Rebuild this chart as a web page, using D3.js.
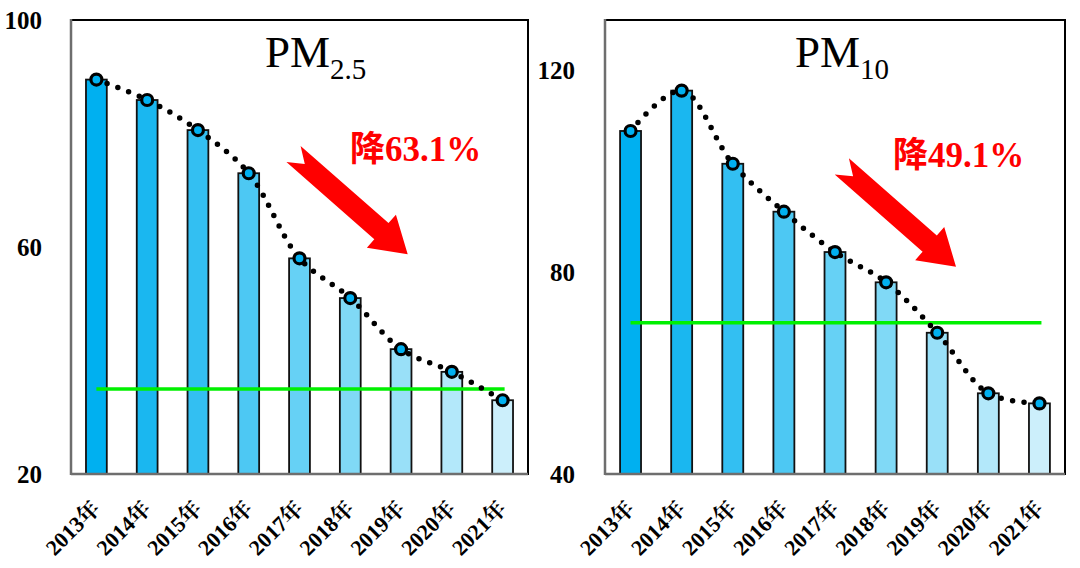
<!DOCTYPE html>
<html>
<head>
<meta charset="utf-8">
<script src="https://cdn.jsdelivr.net/npm/d3@7"></script>
<style>
  html, body { margin: 0; padding: 0; background: #fff; }
  svg { display: block; }
</style>
</head>
<body>
<svg id="chart" width="1080" height="568"></svg>
<script>
// ---------------- data ----------------
const years = ["2013年","2014年","2015年","2016年","2017年","2018年","2019年","2020年","2021年"];
const pm25 = [89.5, 85.9, 80.6, 73, 58, 51, 42, 38, 33];
const pm10 = [108, 116, 101.5, 92, 84, 78, 68, 56, 54];
const pm25Ticks = [20, 60, 100];
const pm10Ticks = [40, 80, 120];
const pm25Standard = 35;
const pm10Standard = 70;
const barColors = ["#00B0F0","#1AB7F0","#33BFF2","#4DC8F3","#66D1F5","#80D9F6","#99E0F8","#B3E8FA","#CCEFFB"];
const pm25Drop = "63.1%";
const pm10Drop = "49.1%";

// ---------------- layout ----------------
const svg = d3.select("#chart");
const serif = "'Liberation Serif','Times New Roman','Noto Serif CJK SC','Noto Sans CJK SC',serif";
const cjk = "'Noto Sans CJK SC','Liberation Serif',serif";

const panels = [
  { x0: 71, x1: 528, domain: [20, 100], ticks: pm25Ticks, tickX: 42, values: pm25,
    standard: pm25Standard, title: "PM", sub: "2.5", titleDx: 194,
    drop: pm25Drop, textDx: 279, textY: 161, tipDx: 336.7, tipY: 254.3 },
  { x0: 605, x1: 1065, domain: [40, 130], ticks: pm10Ticks, tickX: 575, values: pm10,
    standard: pm10Standard, title: "PM", sub: "10", titleDx: 190,
    drop: pm10Drop, textDx: 288, textY: 167, tipDx: 351, tipY: 266.7 }
];
const yTop = 20, yBottom = 474;

panels.forEach(p => {
  const g = svg.append("g");
  const x = d3.scaleBand().domain(years).range([p.x0, p.x1]).paddingInner(0).paddingOuter(0);
  const y = d3.scaleLinear().domain(p.domain).range([yBottom, yTop]);
  const bw = x.bandwidth() * 0.41;
  const cx = d => x(d) + x.bandwidth() / 2;

  // frame
  g.append("rect").attr("x", p.x0).attr("y", yTop)
    .attr("width", p.x1 - p.x0).attr("height", yBottom - yTop)
    .attr("fill", "none").attr("stroke", "#000").attr("stroke-width", 2);

  // bars
  g.selectAll("rect.bar").data(p.values).join("rect").attr("class", "bar")
    .attr("x", (d, i) => cx(years[i]) - bw / 2)
    .attr("y", d => y(d))
    .attr("width", bw)
    .attr("height", d => yBottom - y(d))
    .attr("fill", (d, i) => barColors[i])
    .attr("stroke", "#111").attr("stroke-width", 1.8);

  // axes lines (gray) left and bottom
  g.append("line").attr("x1", p.x0).attr("x2", p.x0).attr("y1", yTop - 1).attr("y2", yBottom + 1)
    .attr("stroke", "#6e6e6e").attr("stroke-width", 2.5);
  g.append("line").attr("x1", p.x0).attr("x2", p.x1).attr("y1", yBottom).attr("y2", yBottom)
    .attr("stroke", "#6e6e6e").attr("stroke-width", 2.5);

  // y tick labels
  const yAxis = d3.axisLeft(y).tickValues(p.ticks).tickSize(0).tickPadding(0);
  const ya = g.append("g").attr("transform", `translate(${p.tickX},0)`).call(yAxis);
  ya.select(".domain").remove();
  ya.selectAll("text").attr("font-family", serif).attr("font-weight", "bold")
    .attr("font-size", 25).attr("fill", "#000").attr("dy", "0.34em");

  // x tick labels
  const xAxis = d3.axisBottom(x).tickSize(0).tickPadding(0);
  const xa = g.append("g").attr("transform", `translate(0,${yBottom})`).call(xAxis);
  xa.select(".domain").remove();
  xa.selectAll("text")
    .attr("font-family", serif).attr("font-weight", "bold").attr("font-size", 22).attr("fill", "#000")
    .attr("text-anchor", "end").attr("y", 0).attr("dy", 0)
    .attr("transform", "translate(5,36) rotate(-45)");

  // standard line
  g.append("line")
    .attr("x1", cx(years[0])).attr("x2", cx(years[years.length - 1]) + 2)
    .attr("y1", y(p.standard)).attr("y2", y(p.standard))
    .attr("stroke", "#00F000").attr("stroke-width", 3.5);

  // dotted smooth line
  const line = d3.line().x((d, i) => cx(years[i])).y(d => y(d)).curve(d3.curveCatmullRom.alpha(0.5));
  g.append("path").attr("d", line(p.values))
    .attr("fill", "none").attr("stroke", "#000").attr("stroke-width", 5.5)
    .attr("stroke-linecap", "round").attr("stroke-dasharray", "0,11.5");

  // markers
  g.selectAll("circle.pt").data(p.values).join("circle").attr("class", "pt")
    .attr("cx", (d, i) => cx(years[i])).attr("cy", d => y(d)).attr("r", 5.5)
    .attr("fill", "#00B0F0").attr("stroke", "#000").attr("stroke-width", 3.2);

  // title
  const t = g.append("text").attr("x", p.x0 + p.titleDx).attr("y", 67)
    .attr("font-family", serif).attr("font-size", 45).attr("fill", "#000");
  t.append("tspan").text(p.title);
  t.append("tspan").attr("font-size", 29).attr("dy", 12).text(p.sub);

  // arrow
  const L = 152, w = 10.75, H = 22, h = 35, n = 15;
  const arrowPts = [[0,0],[-h,H],[-h,w],[-L,w],[-L+n,0],[-L,-w],[-h,-w],[-h,-H]];
  g.append("path").attr("d", "M" + arrowPts.map(q => q.join(",")).join("L") + "Z")
    .attr("fill", "#FF0000")
    .attr("transform", `translate(${p.x0 + p.tipDx},${p.tipY}) rotate(41.3)`);

  // annotation text
  const a = g.append("text").attr("x", p.x0 + p.textDx).attr("y", p.textY)
    .attr("font-size", 35).attr("font-weight", "bold").attr("fill", "#FF0000");
  a.append("tspan").attr("font-family", cjk).text("降");
  a.append("tspan").attr("font-family", serif).text(p.drop);
});
</script>
</body>
</html>
